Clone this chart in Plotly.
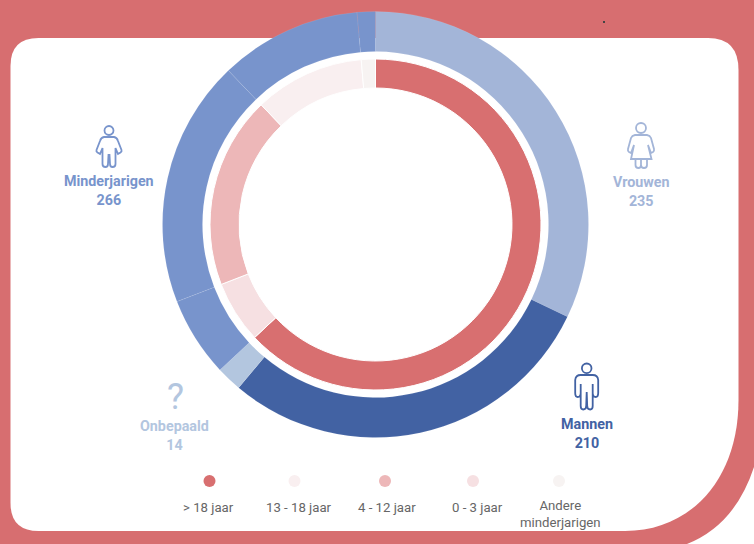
import plotly.graph_objects as go

# ---- data ----
outer_labels = ["Vrouwen", "Mannen", "Onbepaald", "Min 0-3", "Min 4-12", "Min 13-18", "Min andere"]
outer_values = [233, 210, 14, 44, 136, 78, 10]
outer_colors = ["#A3B5D8", "#4262A3", "#B3C6DF", "#7894CC", "#7894CC", "#7894CC", "#7894CC"]
inner_labels = ["> 18 jaar", "0 - 3 jaar", "4 - 12 jaar", "13 - 18 jaar", "Andere minderjarigen"]
inner_values = [457, 44, 136, 78, 10]
inner_colors = ["#D86F70", "#F6E0E2", "#EDB7B8", "#F9EFF0", "#F7F3F2"]
legend_labels = ["> 18 jaar", "13 - 18 jaar", "4 - 12 jaar", "0 - 3 jaar", "Andere<br>minderjarigen"]
legend_colors = ["#D86F70", "#F9EFF0", "#EDB7B8", "#F6E0E2", "#F7F3F2"]
legend_dot_x = [209.5, 294.5, 385, 473, 559]
legend_text_x = [208, 299, 387, 477, 560]
group_labels = ["Minderjarigen", "Vrouwen", "Mannen", "Onbepaald"]
group_values = [266, 235, 210, 14]
group_colors = ["#7894CC", "#A3B5D8", "#4262A3", "#B3C6DF"]
group_x = [109, 641, 586.5, 174]
group_y = [190, 191, 433, 435.5]

W, H = 754, 544
RED = "#D76E70"
CX, CY = 375.5, 224.5


def domain(r):
    return dict(x=[(CX - r) / W, (CX + r) / W], y=[1 - (CY + r) / H, 1 - (CY - r) / H])


fig = go.Figure()
fig.add_trace(go.Pie(labels=outer_labels, values=outer_values, sort=False, direction="clockwise", rotation=0,
                     hole=173 / 213, domain=domain(213), textinfo="none", showlegend=False, hoverinfo="label+value",
                     marker=dict(colors=outer_colors, line=dict(color="rgba(255,255,255,0.2)", width=0.4))))
fig.add_trace(go.Pie(labels=inner_labels, values=inner_values, sort=False, direction="clockwise", rotation=0,
                     hole=136.5 / 165.5, domain=domain(165.5), textinfo="none", showlegend=False, hoverinfo="label+value",
                     marker=dict(colors=inner_colors, line=dict(color="#FFFFFF", width=1))))
fig.add_trace(go.Scatter(x=legend_dot_x, y=[481] * 5, mode="markers", showlegend=False, hoverinfo="skip",
                         marker=dict(size=12, color=legend_colors, line=dict(width=0))))

shapes = [
    dict(type="path", layer="below", xref="x", yref="y", fillcolor="#FFFFFF", line=dict(width=0),
         path="M 10.5 66 Q 10.5 38 38.5 38 L 708 38 Q 738.5 38 738.5 70 L 738.5 400 "
              "C 738.5 480 690 531 625 531 L 38.5 531 Q 10.5 531 10.5 503 Z"),
    dict(type="path", layer="below", xref="x", yref="y", fillcolor="#FFFFFF", line=dict(width=0),
         path="M 754 467 Q 735 525 687 544 L 754 544 Z"),
    dict(type="rect", layer="below", xref="x", yref="y", x0=603, x1=605, y0=21, y1=23,
         fillcolor="#444444", line=dict(width=0)),
]


def circle(cx, cy, r, color):
    return dict(type="circle", layer="above", xref="x", yref="y", x0=cx - r, x1=cx + r, y0=cy - r, y1=cy + r,
                line=dict(color=color, width=1.8), fillcolor="rgba(0,0,0,0)")


def outline(path, color):
    return dict(type="path", layer="above", xref="x", yref="y", path=path,
                line=dict(color=color, width=1.8), fillcolor="rgba(0,0,0,0)")


def person(cx, top, s, color):
    # outline of a standing figure; s scales it
    def p(dx, dy):
        return f"{cx + dx * s:.1f} {top + dy * s:.1f}"
    d = (f"M {p(-6, 0)} Q {p(-11, 0)} {p(-11.5, 5)} L {p(-11.5, 18)} Q {p(-11.5, 22)} {p(-9, 22)} "
         f"Q {p(-6, 22)} {p(-6, 18)} L {p(-6, 9)} L {p(-6, 31)} Q {p(-6, 34.5)} {p(-3.5, 34.5)} "
         f"Q {p(-0.5, 34.5)} {p(-0.5, 31)} L {p(0, 17)} L {p(0.5, 31)} Q {p(0.5, 34.5)} {p(3.5, 34.5)} "
         f"Q {p(6, 34.5)} {p(6, 31)} L {p(6, 9)} L {p(6, 18)} Q {p(6, 22)} {p(9, 22)} "
         f"Q {p(11.5, 22)} {p(11.5, 18)} L {p(11.5, 5)} Q {p(11, 0)} {p(6, 0)} Z")
    return outline(d, color)


# child (Minderjarigen): narrower body, angled arms
child = ("M 104 137 Q 101 137.5 100 141 L 96.5 150 Q 96 151.5 97.5 152.5 L 100 154 L 102.5 148 L 102.5 164 "
         "Q 102.5 167 105.5 167 Q 108 167 108 164 L 108.5 155 L 109.5 155 L 110 164 Q 110 167 112.5 167 "
         "Q 115.5 167 115.5 164 L 115.5 148 L 118 154 L 120.5 152.5 Q 122 151.5 121.5 150 L 118 141 "
         "Q 117 137.5 114 137 Z")
woman = ("M 635 135 Q 632 135.5 631 138 L 628 149 Q 627.5 151 629 152 L 631 153 L 634 145 L 631 159 L 651.5 159 "
         "L 648 145 L 651 153 L 653 152 Q 654.5 151 654 149 L 651 138 Q 650 135.5 647 135 Z "
         "M 635.5 159 L 635.5 165 Q 635.5 168 638.5 168 Q 641 168 641 165 L 641 159 "
         "M 641 165 Q 641 168 644 168 Q 647 168 647 165 L 647 159")
shapes += [
    circle(109, 130.5, 4.5, group_colors[0]), outline(child, group_colors[0]),
    circle(641, 128, 5, group_colors[1]), outline(woman, group_colors[1]),
    circle(586.7, 368.3, 4.8, group_colors[2]), person(586.7, 375, 1, group_colors[2]),
]

ann = []
for lab, val, col, x, y in zip(group_labels, group_values, group_colors, group_x, group_y):
    ann.append(dict(x=x, y=y, xref="x", yref="y", showarrow=False, align="center",
                    text=f"<b>{lab}<br>{val}</b>",
                    font=dict(family="Roboto", size=14.3, color=col)))
ann.append(dict(x=175, y=396.5, xref="x", yref="y", showarrow=False, text="?",
                font=dict(family="Roboto", size=36, color=group_colors[3])))
for lab, x in zip(legend_labels, legend_text_x):
    ann.append(dict(x=x, y=507 if "<br>" not in lab else 514, xref="x", yref="y", showarrow=False, align="center",
                    text=lab, font=dict(family="Roboto", size=13.2, color="#666666")))

axis = dict(visible=False, fixedrange=True)
fig.update_layout(width=W, height=H, margin=dict(l=0, r=0, t=0, b=0), autosize=False,
                  paper_bgcolor=RED, plot_bgcolor="rgba(0,0,0,0)", shapes=shapes, annotations=ann,
                  xaxis=dict(range=[0, W], **axis), yaxis=dict(range=[H, 0], **axis))
fig.write_html("out.html", config=dict(displayModeBar=False),
               post_script="document.body.style.margin='0';document.documentElement.style.overflow='hidden';")
